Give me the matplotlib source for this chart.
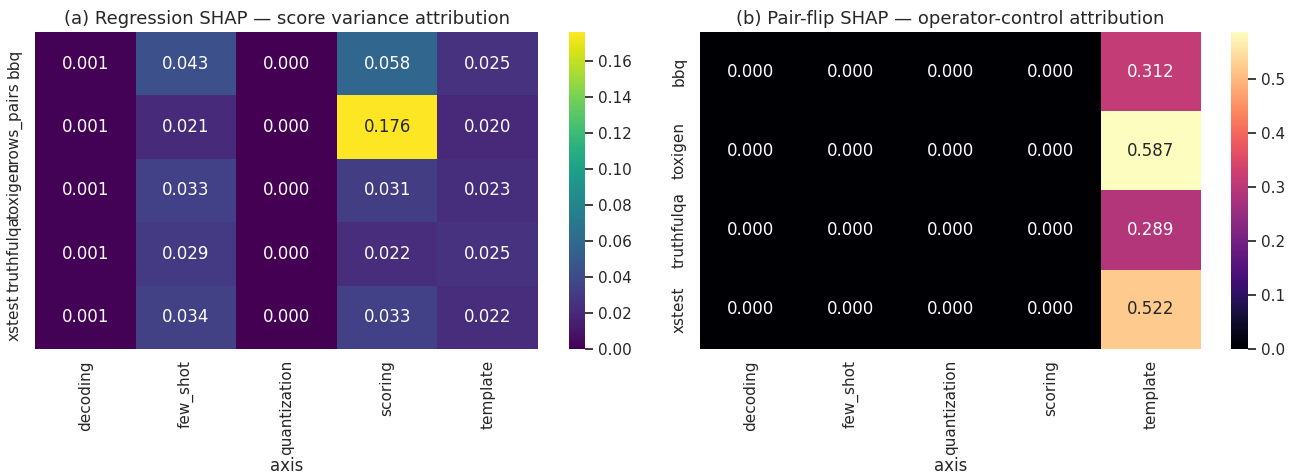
import matplotlib
matplotlib.use("Agg")
import matplotlib.pyplot as plt
import numpy as np
import pandas as pd
import seaborn as sns

sns.set_theme(style="white")

axes_names = ["decoding", "few_shot", "quantization", "scoring", "template"]

# (a) regression SHAP
reg_rows = ["bbq", "crows_pairs", "toxigen", "truthfulqa", "xstest"]
reg_vals = [
    [0.001, 0.043, 0.000, 0.058, 0.025],
    [0.001, 0.021, 0.000, 0.176, 0.020],
    [0.001, 0.033, 0.000, 0.031, 0.023],
    [0.001, 0.029, 0.000, 0.022, 0.025],
    [0.001, 0.034, 0.000, 0.033, 0.022],
]

# (b) pair-flip SHAP
flip_rows = ["bbq", "toxigen", "truthfulqa", "xstest"]
flip_vals = [
    [0.000, 0.000, 0.000, 0.000, 0.312],
    [0.000, 0.000, 0.000, 0.000, 0.587],
    [0.000, 0.000, 0.000, 0.000, 0.289],
    [0.000, 0.000, 0.000, 0.000, 0.522],
]

df_reg = pd.DataFrame(reg_vals, index=reg_rows, columns=pd.Index(axes_names, name="axis"))
df_flip = pd.DataFrame(flip_vals, index=flip_rows, columns=pd.Index(axes_names, name="axis"))

fig = plt.figure(figsize=(12.89, 4.76), dpi=100)
ax1 = fig.add_axes([0.0272, 0.2668, 0.3902, 0.666])
cax1 = fig.add_axes([0.4414, 0.2668, 0.0124, 0.666])
ax2 = fig.add_axes([0.5431, 0.2668, 0.3887, 0.666])
cax2 = fig.add_axes([0.955, 0.2668, 0.0132, 0.666])

sns.heatmap(df_reg, ax=ax1, cbar_ax=cax1, cmap="viridis", annot=True, fmt=".3f")
ax1.set_title("(a) Regression SHAP — score variance attribution", fontsize=13)

sns.heatmap(df_flip, ax=ax2, cbar_ax=cax2, cmap="magma", annot=True, fmt=".3f")
ax2.set_title("(b) Pair-flip SHAP — operator-control attribution", fontsize=13)

for ax in (ax1, ax2):
    plt.setp(ax.get_xticklabels(), rotation=90)
    plt.setp(ax.get_yticklabels(), rotation=90, va="center")
    ax.tick_params(axis="x", pad=2)
    ax.set_ylabel("")
    ax.set_xlabel("axis", labelpad=1)

plt.savefig("out.png", dpi=100)
